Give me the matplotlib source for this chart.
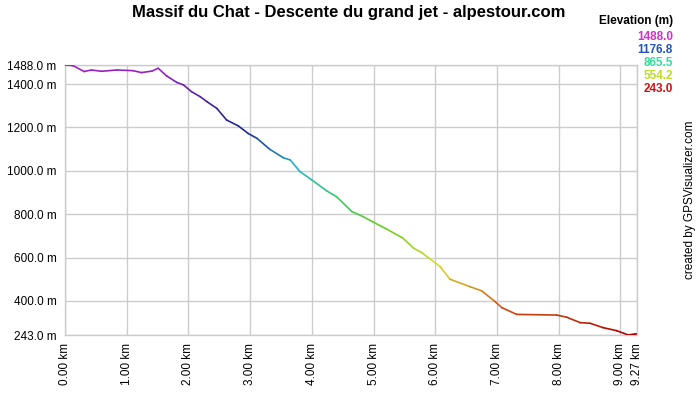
import numpy as np
import matplotlib
matplotlib.use("Agg")
import matplotlib.pyplot as plt
from matplotlib.collections import LineCollection
from matplotlib.colors import LinearSegmentedColormap

plt.rcParams['font.family'] = ['Liberation Sans', 'DejaVu Sans']

# distance (km) and elevation (m) read from the profile
dist_km = [0.00, 0.13, 0.31, 0.43, 0.59, 0.84, 1.10, 1.24, 1.41, 1.51, 1.65, 1.81,
           1.92, 2.05, 2.19, 2.30, 2.46, 2.62, 2.81, 2.97, 3.11, 3.32, 3.54, 3.65,
           3.81, 4.00, 4.24, 4.40, 4.65, 4.83, 5.00, 5.21, 5.48, 5.65, 5.78, 5.90,
           6.08, 6.24, 6.56, 6.75, 6.97, 7.08, 7.32, 7.97, 8.13, 8.35, 8.51, 8.72,
           8.94, 9.13, 9.24, 9.27]
elev_m = [1488, 1485, 1458, 1465, 1459, 1465, 1462, 1453, 1460, 1473, 1437, 1408,
          1396, 1365, 1342, 1319, 1288, 1234, 1207, 1172, 1150, 1099, 1060, 1050,
          996, 958, 908, 881, 812, 789, 763, 732, 689, 643, 623, 597,
          558, 500, 466, 447, 397, 369, 338, 335, 325, 300, 297, 277,
          263, 243, 248, 248]

x_ticks = [0, 1, 2, 3, 4, 5, 6, 7, 8, 9, 9.27]
y_ticks = [243, 400, 600, 800, 1000, 1200, 1400, 1488]
legend_vals = [1488.0, 1176.8, 865.5, 554.2, 243.0]
legend_cols = ['#cc33cc', '#2255bb', '#33dd99', '#bbdd22', '#cc1111']

ymin, ymax = 243.0, 1488.0
cmap = LinearSegmentedColormap.from_list('elev', [
    (0.00, '#a80000'), (0.09, '#cc4a10'), (0.25, '#dede30'), (0.40, '#66cc22'),
    (0.50, '#33cc66'), (0.62, '#22b8cc'), (0.75, '#1a2a90'), (0.85, '#402098'),
    (1.00, '#a822c8')])

fig = plt.figure(figsize=(7, 4), dpi=100)
ax = fig.add_axes([65/700, 1 - 335/400, 572/700, 270/400])

pts = np.column_stack([dist_km, elev_m])
segs = np.stack([pts[:-1], pts[1:]], axis=1)
mid = (np.array(elev_m[:-1]) + np.array(elev_m[1:])) / 2
lc = LineCollection(segs, colors=cmap((mid - ymin) / (ymax - ymin)), linewidth=1.2,
                    capstyle='round', joinstyle='round', zorder=3)
ax.add_collection(lc)

ax.set_xlim(0, 9.27)
ax.set_ylim(ymin, ymax)
ax.set_xticks(x_ticks)
ax.set_xticklabels(['%.2f km' % v for v in x_ticks], rotation=90, fontsize=8.5)
ax.set_yticks(y_ticks)
ax.set_yticklabels(['%.1f m' % v for v in y_ticks], fontsize=8.5)
ax.tick_params(length=0, pad=6)
ax.grid(True, color='#cccccc', linewidth=1)
for s in ax.spines.values():
    s.set_color('#cccccc')
    s.set_linewidth(1)

fig.text(349/700, 1 - 12/400, 'Massif du Chat - Descente du grand jet - alpestour.com',
         ha='center', va='center', fontsize=12, fontweight='bold')
fig.text(673/700, 1 - 21/400, 'Elevation (m)', ha='right', va='center',
         fontsize=8.5, fontweight='bold')
for i, (v, c) in enumerate(zip(legend_vals, legend_cols)):
    fig.text(673/700, 1 - (37 + 13 * i)/400, '%.1f' % v, ha='right', va='center',
             fontsize=8.5, fontweight='bold', color=c)
fig.text(690/700, 1 - 200/400, 'created by GPSVisualizer.com', rotation=90,
         ha='center', va='center', fontsize=8.5)

fig.savefig('out.png', dpi=100)
